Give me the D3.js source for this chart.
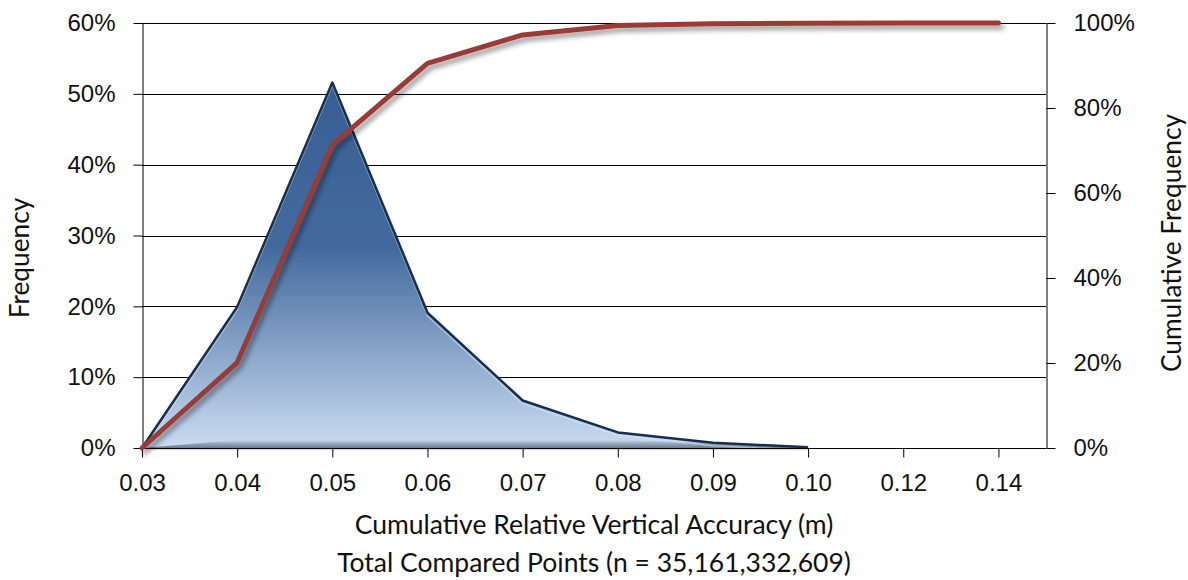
<!DOCTYPE html>
<html>
<head>
<meta charset="utf-8">
<script src="https://cdn.jsdelivr.net/npm/d3@7/dist/d3.min.js"></script>
<style>
  html, body { margin: 0; padding: 0; background: #fff; }
  svg { display: block; font-family: Lato, "Open Sans", sans-serif; }
  .axis text { fill: #111; }
</style>
</head>
<body>
<svg id="chart" width="1188" height="580"></svg>
<script>
// Accuracy bins (m)
const categories = ["0.03", "0.04", "0.05", "0.06", "0.07", "0.08", "0.09", "0.10", "0.12", "0.14"];
// Share of points in each bin
const frequency = [0, 0.199, 0.516, 0.191, 0.067, 0.022, 0.0075, 0.001, 0, 0];
// Running total of the shares
const cumulative = [0, 0.201, 0.713, 0.905, 0.972, 0.994, 0.998, 0.9995, 1.0, 1.0];
const leftTicks = [0, 0.1, 0.2, 0.3, 0.4, 0.5, 0.6];
const rightTicks = [0, 0.2, 0.4, 0.6, 0.8, 1.0];

const svg = d3.select("#chart");
const plot = { left: 142, right: 1046, top: 23, bottom: 448 };

const x = d3.scaleLinear().domain([0, categories.length - 0.5]).range([plot.left, plot.right]);
const yL = d3.scaleLinear().domain([0, 0.6]).range([plot.bottom, plot.top]);
const yR = d3.scaleLinear().domain([0, 1]).range([plot.bottom, plot.top]);

const defs = svg.append("defs");
const grad = defs.append("linearGradient")
  .attr("id", "areaFill").attr("x1", 0).attr("y1", 0).attr("x2", 0).attr("y2", 1);
grad.append("stop").attr("offset", "0%").attr("stop-color", "#385f94");
grad.append("stop").attr("offset", "45%").attr("stop-color", "#43699d");
grad.append("stop").attr("offset", "100%").attr("stop-color", "#cadcf2");

const baseShade = defs.append("linearGradient")
  .attr("id", "baseShade").attr("x1", 0).attr("y1", 0).attr("x2", 0).attr("y2", 1);
baseShade.append("stop").attr("offset", "0%").attr("stop-color", "#000").attr("stop-opacity", 0);
baseShade.append("stop").attr("offset", "100%").attr("stop-color", "#1b2f4a").attr("stop-opacity", 0.55);

const shadow = defs.append("filter").attr("id", "lineShadow")
  .attr("x", "-10%").attr("y", "-10%").attr("width", "130%").attr("height", "130%");
shadow.append("feDropShadow").attr("dx", 3).attr("dy", 4).attr("stdDeviation", 2.5)
  .attr("flood-color", "#000").attr("flood-opacity", 0.4);

const areaShadow = defs.append("filter").attr("id", "areaShadow")
  .attr("x", "-10%").attr("y", "-10%").attr("width", "130%").attr("height", "130%");
areaShadow.append("feDropShadow").attr("dx", 1).attr("dy", 1).attr("stdDeviation", 1.2)
  .attr("flood-color", "#000").attr("flood-opacity", 0.4);

// Horizontal gridlines
svg.append("g").selectAll("line").data(leftTicks).join("line")
  .attr("x1", plot.left).attr("x2", plot.right)
  .attr("y1", d => Math.round(yL(d)) + 0.5).attr("y2", d => Math.round(yL(d)) + 0.5)
  .attr("stroke", "#000").attr("stroke-width", 1);

// Frequency area, drawn up to the last non-empty bin
let lastBin = 0;
frequency.forEach((v, i) => { if (v > 0) lastBin = i; });
const pts = frequency.map((v, i) => ({ i, v })).filter(d => d.i <= lastBin);

const freqArea = d3.area().x(d => x(d.i)).y0(plot.bottom).y1(d => yL(d.v));
const freqEdge = d3.line().x(d => x(d.i)).y(d => yL(d.v));

svg.append("path").datum(pts).attr("d", freqArea)
  .attr("fill", "url(#areaFill)").attr("filter", "url(#areaShadow)");
// darker band along the base
const baseBand = d3.area().x(d => x(d.i)).y0(plot.bottom).y1(d => Math.max(yL(d.v), plot.bottom - 8));
svg.append("path").datum(pts).attr("d", baseBand).attr("fill", "url(#baseShade)");
// light bevel just inside the edge
svg.append("path").datum(pts).attr("d", freqEdge)
  .attr("transform", "translate(0,3)")
  .attr("fill", "none").attr("stroke", "#d6e4f5").attr("stroke-opacity", 0.55).attr("stroke-width", 1.5);
svg.append("path").datum(pts).attr("d", freqEdge)
  .attr("fill", "none").attr("stroke", "#172e4c").attr("stroke-width", 2.5).attr("stroke-linejoin", "round");

// Axes
const xAxis = d3.axisBottom(x).tickValues(d3.range(categories.length))
  .tickFormat(i => categories[i]).tickSize(9).tickSizeOuter(0).tickPadding(16);
const gx = svg.append("g").attr("class", "axis").attr("transform", `translate(0,${plot.bottom + 0.5})`).call(xAxis);
gx.select(".domain").attr("stroke", "#000").attr("d", `M${plot.left},0H${plot.right}`);
gx.selectAll(".tick line").attr("stroke", "#000");
gx.selectAll("text").attr("font-size", 24);

const yAxisL = d3.axisLeft(yL).tickValues(leftTicks).tickFormat(d3.format(".0%"))
  .tickSize(9).tickSizeOuter(0).tickPadding(18);
const gl = svg.append("g").attr("class", "axis").attr("transform", `translate(${plot.left + 0.5},0)`).call(yAxisL);
gl.select(".domain").attr("stroke", "#000");
gl.selectAll(".tick line").attr("stroke", "#000");
gl.selectAll("text").attr("font-size", 24);

const yAxisR = d3.axisRight(yR).tickValues(rightTicks).tickFormat(d3.format(".0%"))
  .tickSize(9).tickSizeOuter(0).tickPadding(18);
const gr = svg.append("g").attr("class", "axis").attr("transform", `translate(${plot.right + 0.5},0)`).call(yAxisR);
gr.select(".domain").attr("stroke", "#000");
gr.selectAll(".tick line").attr("stroke", "#000");
gr.selectAll("text").attr("font-size", 24);

// Cumulative frequency line
const cumLine = d3.line().x((d, i) => x(i)).y(d => yR(d));
svg.append("path").datum(cumulative).attr("d", cumLine)
  .attr("fill", "none").attr("stroke", "#9b3a36").attr("stroke-width", 5)
  .attr("stroke-linejoin", "round").attr("stroke-linecap", "round")
  .attr("filter", "url(#lineShadow)");

// Titles
const mid = (plot.left + plot.right) / 2;
svg.append("text").attr("x", mid).attr("y", 534)
  .attr("text-anchor", "middle").attr("font-size", 26.5).attr("fill", "#111")
  .text("Cumulative Relative Vertical Accuracy (m)");
svg.append("text").attr("x", mid).attr("y", 572)
  .attr("text-anchor", "middle").attr("font-size", 26.5).attr("fill", "#111")
  .text("Total Compared Points (n = 35,161,332,609)");
svg.append("text").attr("transform", `translate(29,258) rotate(-90)`)
  .attr("text-anchor", "middle").attr("font-size", 26.3).attr("fill", "#111")
  .text("Frequency");
svg.append("text").attr("transform", `translate(1181,243) rotate(-90)`)
  .attr("text-anchor", "middle").attr("font-size", 26.3).attr("fill", "#111")
  .text("Cumulative Frequency");
</script>
</body>
</html>
